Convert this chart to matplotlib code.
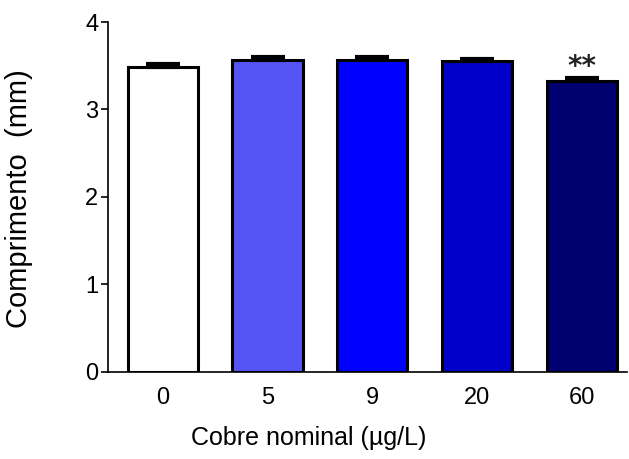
import matplotlib
matplotlib.use("Agg")
import matplotlib.pyplot as plt
import numpy as np

plt.rcParams['font.family'] = ['Liberation Sans', 'DejaVu Sans']

# Data
doses = ["0", "5", "9", "20", "60"]
lengths = [3.49, 3.57, 3.57, 3.55, 3.33]
errors = [0.03, 0.025, 0.025, 0.03, 0.03]
colors = ["#ffffff", "#5555f5", "#0000ff", "#0000c8", "#000070"]
marks = ["", "", "", "", "**"]

fig = plt.figure(figsize=(6.29, 4.59), dpi=100)
ax = fig.add_axes([0.172, 0.19, 0.825, 0.762])

x = np.arange(len(doses))
ax.bar(x, lengths, width=0.67, color=colors, edgecolor="black", linewidth=2.2, zorder=2)
ax.errorbar(x, lengths, yerr=[np.zeros(len(x)), errors], fmt="none", ecolor="black",
            elinewidth=2.2, capsize=12, capthick=3, zorder=3)
for xi, v, e, m in zip(x, lengths, errors, marks):
    if m:
        ax.text(xi, v + e + 0.13, m, ha="center", va="center", fontsize=20,
                family="DejaVu Sans", fontweight="bold", color="#222222")

ax.set_xlim(-0.52, 4.43)
ax.set_ylim(0, 4)
ax.set_yticks([0, 1, 2, 3, 4])
ax.set_xticks(x)
ax.set_xticklabels(doses)
ax.tick_params(axis="x", length=0, pad=11, labelsize=17)
ax.tick_params(axis="y", length=5, width=1.2, labelsize=17, pad=2)
ax.spines["top"].set_visible(False)
ax.spines["right"].set_visible(False)
ax.spines["left"].set_linewidth(1.2)
ax.spines["bottom"].set_linewidth(1.2)
ax.set_ylabel("Comprimento  (mm)", fontsize=21)
ax.set_xlabel("Cobre nominal (µg/L)", fontsize=18)
ax.yaxis.set_label_coords(-0.145, 0.494)
ax.xaxis.set_label_coords(0.387, -0.155)

fig.savefig("out.png", dpi=100)
